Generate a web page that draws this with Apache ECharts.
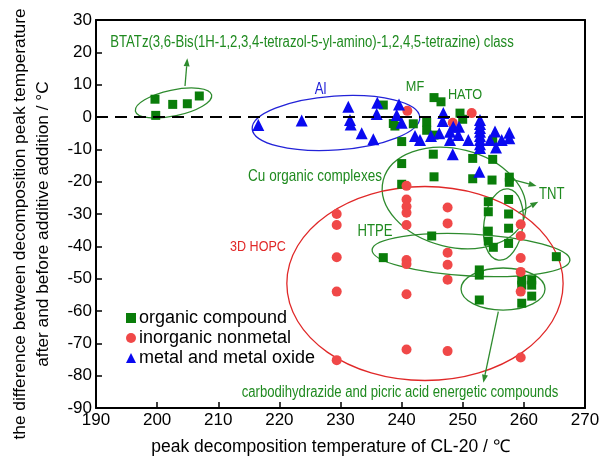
<!DOCTYPE html>
<html><head><meta charset="utf-8">
<script src="https://cdn.jsdelivr.net/npm/echarts@6/dist/echarts.min.js"></script>
<style>html,body{margin:0;padding:0;background:#fff;}#c{width:616px;height:462px;}</style>
</head><body><div id="c"></div>
<script>
// ---------- axes ----------
const xMin = 190, xMax = 270, xStep = 10;
const yMin = -90, yMax = 30, yStep = 10;
const xTitle = 'peak decomposition temperature of CL-20 / \u2103';
const yTitleLines = ['the difference between decomposition peak temperature', 'after and before additive addition / \u00B0C'];
const seriesNames = ['organic compound', 'inorganic nonmetal', 'metal and metal oxide'];

// ---------- data: [peak T of CL-20, delta T] ----------
const organic = [
  [199.65,5.5],[199.77,0.5],[202.55,3.9],[204.94,4.1],[206.9,6.5],
  [237.0,3.7],[238.64,-2.0],[238.9,-2.8],[240.01,-7.6],[241.91,-2.1],[244.1,-1.6],[244.1,-4.1],
  [245.3,6.0],[246.44,4.7],[245.3,-5.6],[249.55,1.2],[249.99,-0.7],
  [245.18,-11.5],[240.01,-14.4],[251.63,-12.8],[254.9,-13.1],[254.9,-7.4],
  [245.3,-18.5],[251.63,-19.1],[254.79,-19.5],[257.62,-18.6],[257.62,-20.2],[240.01,-20.8],
  [254.18,-26.2],[254.18,-29.3],[257.5,-25.5],[257.5,-30.0],[257.5,-34.4],
  [254.18,-35.3],[254.18,-38.4],[255.0,-40.3],[257.5,-39.1],[244.92,-36.8],
  [237.0,-43.5],[265.31,-43.2],
  [252.71,-47.3],[252.71,-48.9],[252.71,-56.6],
  [259.65,-50.4],[259.65,-52.0],[259.65,-57.6],[261.28,-50.4],[261.28,-52.0],[261.28,-55.4]
];
const inorganic = [
  [240.93,1.9],[251.46,1.2],[248.36,-1.8],
  [229.38,-30.0],[229.38,-33.4],[229.38,-43.4],[229.38,-54.0],[229.38,-75.2],
  [240.8,-21.3],[240.8,-25.5],[240.8,-27.7],[240.8,-29.6],[240.8,-33.4],[240.8,-44.2],[240.8,-45.5],[240.8,-54.8],[240.8,-71.9],
  [247.52,-28.0],[247.52,-32.9],[247.52,-42.0],[247.52,-45.7],[247.52,-50.3],[247.52,-72.4],
  [259.48,-33.2],[259.48,-36.8],[259.48,-43.6],[259.48,-47.9],[259.48,-54.0],[259.48,-74.4]
];
const metal = [
  [216.55,-2.5],[223.65,-1.1],[231.28,3.2],[231.55,-0.9],[231.67,-2.3],[233.47,-5.0],[235.37,-6.9],
  [236.02,4.4],[235.92,0.9],[239.57,3.9],[239.19,0.6],[240.01,-1.8],[242.19,-5.9],[243.01,-7.1],
  [244.81,-5.9],[246.16,-5.0],[246.82,1.2],[246.72,-1.2],[247.91,-4.6],[247.91,-7.1],
  [248.45,-3.0],[249.39,-3.0],[249.27,-5.6],[250.91,-7.1],
  [252.82,-0.9],[252.82,-2.2],[252.82,-3.4],[252.82,-4.6],[252.82,-5.9],[252.82,-7.1],[252.82,-8.4],[252.82,-9.6],
  [255.28,-4.5],[256.37,-7.1],[255.44,-9.4],[257.62,-4.9],[257.62,-6.6],[254.46,-7.1],
  [248.36,-11.5],[252.71,-16.9]
];

// ---------- annotations (data units) ----------
// ellipse: [centerT, centerDelta, radiusT, radiusDelta, rotationDeg, colour]
const ellipses = [
  [202.68, 4.33, 6.38, 4.02, 12, '#2e8b2e'],
  [229.26, -1.86, 13.74, 8.35, 4, '#2323d8'],
  [248.57, -25.06, 11.94, 15.16, -14, '#2e8b2e'],
  [256.65, -33.25, 3.19, 11.1, -8, '#2e8b2e'],
  [251.35, -42.69, 16.2, 6.5, -3, '#2e8b2e'],
  [256.59, -53.2, 6.87, 6.5, 0, '#2e8b2e'],
  [243.82, -51.5, 22.6, 30.0, 0, '#e02828']
];
// arrow: [fromT, fromDelta, toT, toDelta]
const arrows = [
  [204.56, 9.59, 204.94, 18.15],
  [258.0, -19.27, 262.08, -21.34],
  [259.09, -29.7, 262.36, -26.2],
  [255.82, -60.2, 253.37, -82.2]
];
// label: [T, delta, text, colour, fontSize]
const labels = [
  [225.34, 22.9, 'BTATz(3,6-Bis(1H-1,2,3,4-tetrazol-5-yl-amino)-1,2,4,5-tetrazine) class', '#1f8a1f', 16],
  [226.76, 8.35, 'Al', '#2323d8', 16],
  [242.19, 9.28, 'MF', '#1f8a1f', 15.5],
  [250.37, 6.8, 'HATO', '#1f8a1f', 15.5],
  [225.83, -18.25, 'Cu organic complexes', '#1f8a1f', 16.5],
  [264.55, -24.13, 'TNT', '#1f8a1f', 16],
  [235.64, -35.57, 'HTPE', '#1f8a1f', 16],
  [216.5, -40.2, '3D HOPC', '#e02828', 15.3],
  [239.73, -85.37, 'carbodihydrazide and picric acid energetic compounds', '#1f8a1f', 16]
];

const FONT = '"Liberation Sans",Arial,sans-serif';
const NARROW = 0.82;
const chart = echarts.init(document.getElementById('c'), null, {renderer: 'canvas'});

const axisLine = {show: true, onZero: false, lineStyle: {color: '#000', width: 2}};
const option = {
  backgroundColor: '#fff',
  animation: false,
  grid: {left: 96, right: 31, top: 20, bottom: 54, containLabel: false, outerBoundsMode: 'none'},
  legend: {
    orient: 'vertical', left: 121, top: 304, itemGap: 2, itemWidth: 10, itemHeight: 10,
    textStyle: {fontSize: 18, color: '#000', fontFamily: FONT, padding: [0,0,0,-2]},
    data: [
      {name: seriesNames[0], icon: 'rect'},
      {name: seriesNames[1], icon: 'circle'},
      {name: seriesNames[2], icon: 'triangle'}
    ]
  },
  graphic: [
    {type: 'text', x: 20, y: 224, rotation: Math.PI / 2, silent: true,
     style: {text: yTitleLines[0], font: '17.3px ' + FONT, fill: '#000', align: 'center', verticalAlign: 'middle'}},
    {type: 'text', x: 43, y: 224, rotation: Math.PI / 2, silent: true,
     style: {text: yTitleLines[1], font: '17.3px ' + FONT, fill: '#000', align: 'center', verticalAlign: 'middle'}}
  ],
  xAxis: [{
    type: 'value', min: xMin, max: xMax, interval: xStep,
    name: xTitle, nameLocation: 'middle', nameGap: 30,
    nameTextStyle: {fontSize: 17.5, color: '#000', fontFamily: FONT, padding: [0, 20, 0, 0]},
    axisLine: axisLine, axisTick: {show: true, inside: true, length: 6, lineStyle: {color: '#000', width: 1.5}},
    axisLabel: {fontSize: 17, color: '#000', fontFamily: FONT, margin: 4},
    splitLine: {show: false}
  }, {
    type: 'value', position: 'top', min: xMin, max: xMax,
    axisLine: axisLine, axisTick: {show: false}, axisLabel: {show: false}, splitLine: {show: false}
  }],
  yAxis: [{
    type: 'value', min: yMin, max: yMax, interval: yStep,
    axisLine: axisLine, axisTick: {show: true, inside: true, length: 6, lineStyle: {color: '#000', width: 1.5}},
    axisLabel: {fontSize: 17, color: '#000', fontFamily: FONT, margin: 4},
    splitLine: {show: false}
  }, {
    type: 'value', position: 'right', min: yMin, max: yMax,
    axisLine: axisLine, axisTick: {show: false}, axisLabel: {show: false}, splitLine: {show: false}
  }],
  series: [
    {
      name: 'ellipses', type: 'custom', silent: true, z: 1,
      data: ellipses.map(e => [e[0], e[1]]),
      encode: {x: 0, y: 1},
      clip: false,
      renderItem: function (params, api) {
        const e = ellipses[params.dataIndex];
        const c = api.coord([e[0], e[1]]);
        const s = api.size([e[2], e[3]]);
        return {
          type: 'ellipse', x: c[0], y: c[1], rotation: e[4] * Math.PI / 180,
          shape: {cx: 0, cy: 0, rx: s[0], ry: s[1]},
          style: {fill: null, stroke: e[5], lineWidth: 1.3}
        };
      }
    },
    {
      name: 'arrows', type: 'custom', silent: true, z: 1,
      data: arrows.map(a => [a[0], a[1]]),
      encode: {x: 0, y: 1},
      clip: false,
      renderItem: function (params, api) {
        const a = arrows[params.dataIndex];
        const p1 = api.coord([a[0], a[1]]);
        const p2 = api.coord([a[2], a[3]]);
        const ang = Math.atan2(p2[1] - p1[1], p2[0] - p1[0]);
        const L = 8, W = 3;
        const bx = p2[0] - L * Math.cos(ang), by = p2[1] - L * Math.sin(ang);
        return {
          type: 'group', children: [
            {type: 'line', shape: {x1: p1[0], y1: p1[1], x2: bx, y2: by}, style: {stroke: '#2e8b2e', lineWidth: 1.3}},
            {type: 'polygon', shape: {points: [
              [p2[0], p2[1]],
              [bx + W * Math.sin(ang), by - W * Math.cos(ang)],
              [bx - W * Math.sin(ang), by + W * Math.cos(ang)]
            ]}, style: {fill: '#2e8b2e'}}
          ]
        };
      }
    },
    {
      name: 'labels', type: 'custom', silent: true, z: 5,
      data: labels.map(l => [l[0], l[1]]),
      encode: {x: 0, y: 1},
      clip: false,
      renderItem: function (params, api) {
        const l = labels[params.dataIndex];
        const c = api.coord([l[0], l[1]]);
        return {
          type: 'text', x: c[0], y: c[1], scaleX: NARROW,
          style: {text: l[2], fill: l[3], font: l[4] + 'px ' + FONT, align: 'center', verticalAlign: 'middle'}
        };
      }
    },
    {
      name: seriesNames[0], type: 'scatter', data: organic, symbol: 'rect', symbolSize: 9, z: 2,
      itemStyle: {color: '#0a7d0a', opacity: 1},
      markLine: {
        silent: true, symbol: 'none', label: {show: false},
        lineStyle: {color: '#000', type: [12, 7], width: 2},
        data: [{yAxis: 0}]
      }
    },
    {
      name: seriesNames[1], type: 'scatter', data: inorganic, symbol: 'circle', symbolSize: 10, z: 3,
      itemStyle: {color: '#f04848', opacity: 1}
    },
    {
      name: seriesNames[2], type: 'scatter', data: metal, symbol: 'triangle', symbolSize: 12, z: 4,
      itemStyle: {color: '#0a0af0', opacity: 1}
    }
  ]
};
chart.setOption(option);
</script>
</body></html>
